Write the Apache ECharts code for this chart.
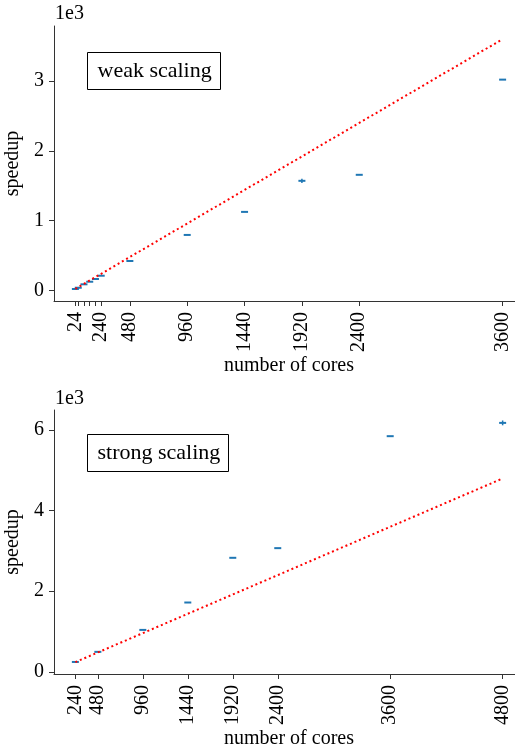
<!DOCTYPE html>
<html>
<head>
<meta charset="utf-8">
<script src="https://cdn.jsdelivr.net/npm/echarts@6/dist/echarts.min.js"></script>
<style>
  html, body { margin: 0; padding: 0; background: #fff; }
  #chart { width: 515px; height: 751px; }
</style>
</head>
<body>
<div id="chart"></div>
<script>
// weak scaling
const weakCores = [24, 48, 96, 144, 192, 240, 480, 960, 1440, 1920, 2400, 3600]
const weakSpeedup = [22, 40, 89, 126, 165, 212, 423, 796, 1126, 1571, 1657, 3020]
const weakErr = [0, 0, 0, 0, 0, 0, 0, 0, 0, 30, 0, 0]
const weakIdealCores = [24, 3600]
const weakIdeal = [24, 3600]
const weakTicks = [24, 48, 96, 144, 192, 240, 480, 960, 1440, 1920, 2400, 3600]
const weakTickLabels = [24, 240, 480, 960, 1440, 1920, 2400, 3600]
const weakYTicks = [0, 1000, 2000, 3000]

// strong scaling
const strongCores = [240, 480, 960, 1440, 1920, 2400, 3600, 4800]
const strongSpeedup = [244, 495, 1040, 1720, 2830, 3070, 5850, 6180]
const strongErr = [0, 0, 0, 0, 0, 0, 0, 60]
const strongIdealCores = [240, 4800]
const strongIdeal = [240, 4800]
const strongTicks = [240, 480, 960, 1440, 1920, 2400, 3600, 4800]
const strongYTicks = [0, 2000, 4000, 6000]

const FONT = 'Liberation Serif'
const BLUE = '#1f77b4'
const AXIS = '#333'

const chart = echarts.init(document.getElementById('chart'))

// dash marker with optional error bar
function renderDash(params, api) {
  const x = api.value(0)
  const y = api.value(1)
  const e = api.value(2)
  const p = api.coord([x, y])
  const children = [{
    type: 'rect',
    shape: { x: p[0] - 3.5, y: p[1] - 1, width: 7, height: 2 },
    style: { fill: BLUE }
  }]
  if (e > 0) {
    const t = api.coord([x, y + e])
    const b = api.coord([x, y - e])
    children.push({
      type: 'line',
      shape: { x1: p[0], y1: t[1], x2: p[0], y2: b[1] },
      style: { stroke: BLUE, lineWidth: 1.5 }
    })
  }
  return { type: 'group', children }
}

function xAxisCfg(min, max, ticks, labels, gridIndex) {
  return {
    type: 'value',
    gridIndex,
    min, max,
    name: 'number of cores',
    nameLocation: 'middle',
    nameGap: 53,
    nameTextStyle: { fontFamily: FONT, fontSize: 20, color: '#000' },
    splitLine: { show: false },
    axisLine: { onZero: false, lineStyle: { color: AXIS, width: 1 } },
    axisTick: { show: true, length: 5, lineStyle: { color: AXIS }, customValues: ticks },
    axisLabel: {
      customValues: labels,
      rotate: 90,
      margin: 11,
      fontFamily: FONT,
      fontSize: 20,
      color: '#000',
      formatter: (v) => String(v)
    }
  }
}

function yAxisCfg(min, max, ticks, gridIndex) {
  return {
    type: 'value',
    gridIndex,
    min, max,
    name: 'speedup',
    nameLocation: 'middle',
    nameGap: 24,
    nameTextStyle: { fontFamily: FONT, fontSize: 20, color: '#000' },
    splitLine: { show: false },
    axisLine: { show: true, onZero: false, lineStyle: { color: AXIS, width: 1 } },
    axisTick: { show: true, length: 5, lineStyle: { color: AXIS }, customValues: ticks },
    axisLabel: {
      customValues: ticks,
      margin: 10,
      fontFamily: FONT,
      fontSize: 20,
      color: '#000',
      formatter: (v) => String(v / 1000)
    }
  }
}

function legendBox(label, left, top, width) {
  return {
    type: 'group',
    left, top,
    children: [
      { type: 'rect', shape: { x: 0, y: 0, width, height: 37 }, style: { fill: '#fff', stroke: '#000', lineWidth: 1 } },
      { type: 'text', x: 10, y: 18.5, style: { text: label, font: '22px "Liberation Serif"', fill: '#000', verticalAlign: 'middle' } }
    ]
  }
}

chart.setOption({
  animation: false,
  grid: [
    { left: 54, top: 26, width: 470, height: 275, outerBoundsMode: 'none' },
    { left: 54, top: 410, width: 470, height: 264, outerBoundsMode: 'none' }
  ],
  xAxis: [
    xAxisCfg(-155, 3779, weakTicks, weakTickLabels, 0),
    xAxisCfg(12, 5028, strongTicks, strongTicks, 1)
  ],
  yAxis: [
    yAxisCfg(-150, 3788, weakYTicks, 0),
    yAxisCfg(-55, 6500, strongYTicks, 1)
  ],
  graphic: [
    { type: 'text', left: 55, top: 4, style: { text: '1e3', font: '20px "Liberation Serif"', fill: '#000' } },
    { type: 'text', left: 55, top: 389, style: { text: '1e3', font: '20px "Liberation Serif"', fill: '#000' } },
    legendBox('weak scaling', 87, 52, 133),
    legendBox('strong scaling', 87, 434, 141)
  ],
  series: [
    {
      type: 'custom',
      xAxisIndex: 0, yAxisIndex: 0,
      renderItem: renderDash,
      data: weakCores.map((c, i) => [c, weakSpeedup[i], weakErr[i]]),
      z: 2
    },
    {
      type: 'line',
      xAxisIndex: 0, yAxisIndex: 0,
      data: weakIdealCores.map((c, i) => [c, weakIdeal[i]]),
      showSymbol: false,
      lineStyle: { color: '#ff0000', width: 2, type: [2, 2.9] },
      z: 3
    },
    {
      type: 'custom',
      xAxisIndex: 1, yAxisIndex: 1,
      renderItem: renderDash,
      data: strongCores.map((c, i) => [c, strongSpeedup[i], strongErr[i]]),
      z: 2
    },
    {
      type: 'line',
      xAxisIndex: 1, yAxisIndex: 1,
      data: strongIdealCores.map((c, i) => [c, strongIdeal[i]]),
      showSymbol: false,
      lineStyle: { color: '#ff0000', width: 2, type: [2, 2.9] },
      z: 3
    }
  ]
})
</script>
</body>
</html>
